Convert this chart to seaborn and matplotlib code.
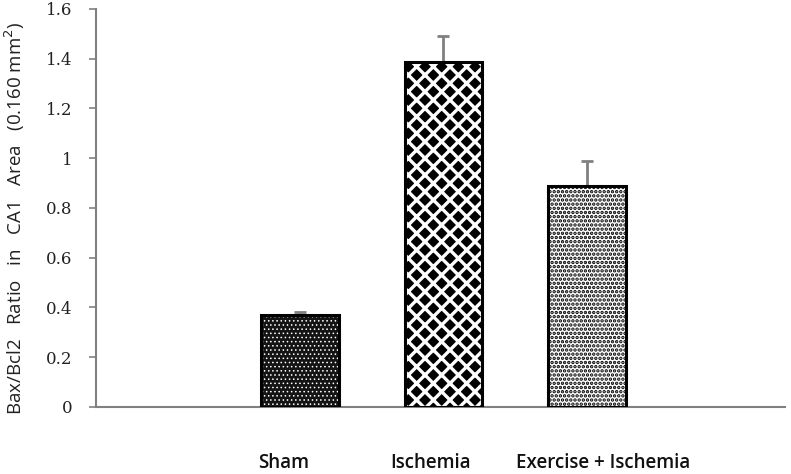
import matplotlib
matplotlib.use("Agg")
import matplotlib.pyplot as plt
import matplotlib.transforms as mtransforms
from matplotlib.patches import Rectangle
import seaborn as sns
import pandas as pd

groups = ["Sham", "Ischemia", "Exercise + Ischemia"]
values = [0.37, 1.385, 0.89]
errors = [0.012, 0.105, 0.10]
yticks = [0, 0.2, 0.4, 0.6, 0.8, 1, 1.2, 1.4, 1.6]
ytick_labels = ["0", "0.2", "0.4", "0.6", "0.8", "1", "1.2", "1.4", "1.6"]

sns.set_theme(style="white")
plt.rcParams["font.family"] = ["Open Sans", "DejaVu Sans"]
plt.rcParams["hatch.linewidth"] = 1.0

df = pd.DataFrame({"group": groups, "value": values})

fig = plt.figure(figsize=(7.91, 4.74), dpi=100)
ax = fig.add_axes([0.1214, 0.1414, 0.871, 0.8397])

sns.barplot(data=df, x="group", y="value", order=groups, width=0.54,
            errorbar=None, ax=ax, zorder=2)

styles = [
    dict(face="#141414", hatchc="white", hatch="....", hlw=0.6),
    dict(face="black", hatchc="white", hatch="xx", hlw=2.4),
    dict(face="white", hatchc="black", hatch="....", hlw=1.7),
]
for p, st in zip(ax.patches, styles):
    p.set_facecolor(st["face"])
    p.set_edgecolor(st["hatchc"])
    p.set_hatch(st["hatch"])
    if hasattr(p, "set_hatch_linewidth"):
        p.set_hatch_linewidth(st["hlw"])
    p.set_linewidth(0)
    outline = Rectangle(p.get_xy(), p.get_width(), p.get_height(), fill=False,
                        edgecolor="black", linewidth=2.2, zorder=3)
    ax.add_patch(outline)

xs = list(range(len(groups)))
ax.errorbar(xs, values, yerr=[[0] * len(errors), errors], fmt="none",
            ecolor="#808080", elinewidth=2, capsize=4.5, capthick=2, zorder=1)

ax.set_xlim(-1.42, 3.38)
ax.set_ylim(0, 1.6)
ax.set_yticks(yticks)
ax.set_yticklabels(ytick_labels, fontsize=12, color="#222222",
                   family=["DejaVu Serif"])
ax.set_xlabel("")
ax.set_ylabel("Bax/Bcl2   Ratio   in   CA1   Area   (0.160 mm$^2$)", fontsize=13.5,
              color="#222222")
ax.yaxis.set_label_coords(-0.1, 0.475)

for side in ["top", "right"]:
    ax.spines[side].set_visible(False)
for side in ["left", "bottom"]:
    ax.spines[side].set_color("#808080")
    ax.spines[side].set_linewidth(1.5)

ax.tick_params(axis="y", left=True, length=5, width=1.2, color="#808080", pad=12)
ax.tick_params(axis="x", bottom=False, pad=27)
ax.set_xticks(xs)
ax.set_xticklabels(groups, fontsize=13.5, fontweight="semibold", color="#111111")
offsets = [-16, -13, 16]
for lab, dx in zip(ax.get_xticklabels(), offsets):
    lab.set_transform(lab.get_transform() +
                      mtransforms.ScaledTranslation(dx / 100, 0, fig.dpi_scale_trans))

ax.grid(False)
fig.savefig("out.png", dpi=100)
